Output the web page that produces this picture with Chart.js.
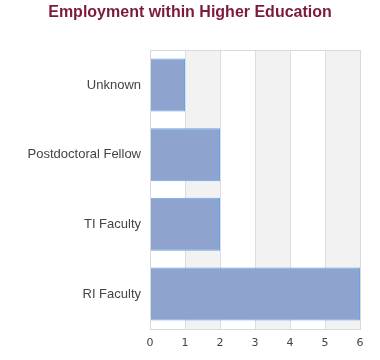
<!DOCTYPE html>
<html>
<head>
<meta charset="utf-8">
<script src="https://cdn.jsdelivr.net/npm/chart.js@4"></script>
<style>
    html, body { margin: 0; padding: 0; background: #ffffff; }
    #box { width: 380px; height: 360px; }
</style>
</head>
<body>
<div id="box"><canvas id="grafico"></canvas></div>
<script>
const categorias = ['Unknown', 'Postdoctoral Fellow', 'TI Faculty', 'RI Faculty'];
const valores = [1, 2, 2, 6];
const ticks_x = [0, 1, 2, 3, 4, 5, 6];

// faixas cinza alternadas + moldura
const faixas = {
    id: 'faixas',
    beforeDraw(chart) {
        const ctx = chart.ctx;
        const area = chart.chartArea;
        const x = chart.scales.x;
        ctx.save();
        ctx.fillStyle = '#f2f2f2';
        for (let i = 1; i < ticks_x.length - 1; i += 2) {
            const x1 = x.getPixelForValue(ticks_x[i]);
            const x2 = x.getPixelForValue(ticks_x[i + 1]);
            ctx.fillRect(x1, area.top, x2 - x1, area.bottom - area.top);
        }
        ctx.restore();
    },
    afterDraw(chart) {
        const ctx = chart.ctx;
        const area = chart.chartArea;
        ctx.save();
        ctx.strokeStyle = '#d9d9d9';
        ctx.lineWidth = 1;
        ctx.strokeRect(Math.round(area.left) + 0.5, Math.round(area.top) + 0.5,
            Math.round(area.right - area.left), Math.round(area.bottom - area.top));
        ctx.restore();
    }
};

new Chart(document.getElementById('grafico'), {
    type: 'bar',
    data: {
        labels: categorias,
        datasets: [{
            data: valores,
            backgroundColor: '#8ea3cd',
            borderColor: '#5ea8f2',
            borderWidth: 1,
            categoryPercentage: 1,
            barPercentage: 0.76
        }]
    },
    options: {
        indexAxis: 'y',
        responsive: true,
        maintainAspectRatio: false,
        animation: false,
        layout: { padding: { left: 20, right: 20, top: 0, bottom: 2 } },
        scales: {
            x: {
                min: 0,
                max: 6,
                ticks: {
                    stepSize: 1,
                    color: '#444444',
                    font: { family: 'DejaVu Sans', size: 11 },
                    padding: 8
                },
                grid: { color: '#dddddd', drawTicks: false },
                border: { display: false }
            },
            y: {
                ticks: {
                    color: '#444444',
                    font: { family: 'Liberation Sans', size: 13 },
                    padding: 9
                },
                grid: { display: false, drawTicks: false, tickLength: 0 },
                border: { display: false },
                afterFit(scale) { scale.width = 130; }
            }
        },
        plugins: {
            legend: { display: false },
            tooltip: { enabled: false },
            title: {
                display: true,
                text: 'Employment within Higher Education',
                color: '#7b1a3c',
                font: { family: 'Liberation Sans', size: 16, weight: 'bold' },
                padding: { top: 3, bottom: 28 }
            }
        }
    },
    plugins: [faixas]
});
</script>
</body>
</html>
